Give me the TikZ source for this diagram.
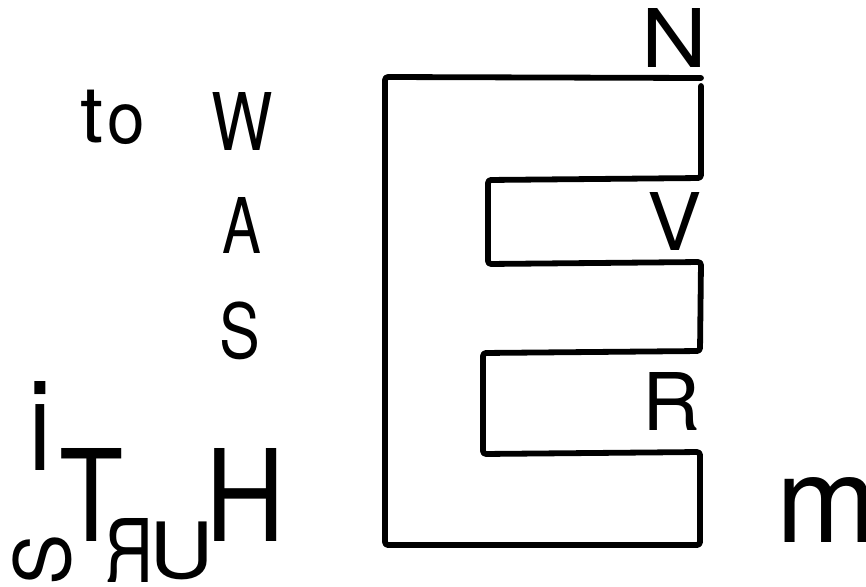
\documentclass[tikz,border=0pt]{standalone}
\usepackage{fontspec}
\setmainfont{TeX Gyre Heros}
\usepackage{graphicx}
\newcount\gnum
\newdimen\gL \newdimen\gR \newdimen\gT \newdimen\gB
\newsavebox\gbox
\newcommand\inkglyph[1]{%
  \gnum=\XeTeXcharglyph`#1\relax
  \gL=\XeTeXglyphbounds1 \gnum
  \gT=\XeTeXglyphbounds2 \gnum
  \gR=\XeTeXglyphbounds3 \gnum
  \gB=\XeTeXglyphbounds4 \gnum
  \sbox\gbox{\kern-\gL #1\kern-\gR}%
  \ht\gbox=\gT \dp\gbox=\gB
  \usebox\gbox}
\tikzset{
  glyph/.style={inner sep=0pt, outer sep=0pt, anchor=north west,
    font=\fontsize{80}{80}\selectfont},
  ebox/.style={draw=black, line width=5.8pt, rounded corners=3pt,
    line join=round, line cap=round}
}
\newcommand\glyphat[6]{%
  \pgfmathsetmacro\gw{#4-#2}\pgfmathsetmacro\gh{#5-#3}%
  \node[glyph] (#1) at (#2,#3) {\resizebox*{\gw pt}{\gh pt}{#6}};}
\begin{document}
\begin{tikzpicture}[x=1pt,y=-1pt]
\useasboundingbox (0,0) rectangle (866,586);
\clip (0,0) rectangle (866,586);
\fill[white] (0,0) rectangle (866,586);
% the big E outline
\draw[ebox] (701,86) -- (701,178) -- (488,180) -- (488,264) -- (701,262)
  -- (700,351) -- (483,353) -- (483,454) -- (700,452) -- (700,545)
  -- (385,545) -- (385,77) -- (701,78);
% letters inside the E
\glyphat{n}{648}{8}{700}{67}{\inkglyph N}
\glyphat{v}{650}{192}{700}{250}{\inkglyph V}
\glyphat{r}{650}{372}{697}{430}{\inkglyph R}
\glyphat{m}{785}{477}{868}{542}{\inkglyph m}
% to WASH
\glyphat{t1}{82}{90}{102}{143}{\inkglyph t}
\glyphat{o1}{110}{105}{142}{145}{\inkglyph o}
\glyphat{w}{213}{92}{272}{150}{\inkglyph W}
\glyphat{a}{223}{197}{260}{253}{\inkglyph A}
\glyphat{s}{222}{302}{257}{360}{\inkglyph S}
\glyphat{h}{215}{448}{277}{541}{\inkglyph H}
% iT and the turned letters
\glyphat{i}{35}{381}{46}{470}{\inkglyph i}
\glyphat{t2}{62}{448}{122}{541}{\inkglyph T}
\glyphat{s2}{13}{538}{72}{582}{\rotatebox{90}{\inkglyph S}}
\glyphat{r2}{108}{518}{148}{582}{\reflectbox{\inkglyph R}}
\glyphat{u}{157}{522}{207}{580}{\inkglyph U}
\end{tikzpicture}
\end{document}
